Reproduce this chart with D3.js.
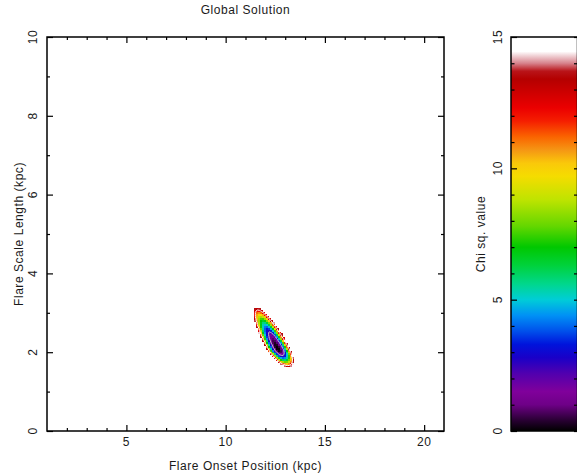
<!DOCTYPE html>
<html><head><meta charset="utf-8">
<script src="https://cdn.jsdelivr.net/npm/d3@7"></script>
<style>
body{margin:0;background:#fff;}
svg{display:block;}
text{font-family:"Liberation Sans",Arial,sans-serif;fill:#1a1a1a;font-size:12px;letter-spacing:0.55px;}
</style></head><body>
<svg id="c" width="577" height="476"></svg>
<script>
const title = "Global Solution";
const xLabel = "Flare Onset Position (kpc)";
const yLabel = "Flare Scale Length (kpc)";
const cbLabel = "Chi sq. value";
const xDomain = [1, 21];
const yDomain = [0, 10];
const cbDomain = [0, 15];
const xMajorTicks = [5, 10, 15, 20];
const yMajorTicks = [0, 2, 4, 6, 8, 10];
const cbMajorTicks = [0, 5, 10, 15];
const gridStepX = 0.1, gridStepY = 0.05;
const rowY = [1.65,1.70,1.75,1.80,1.85,1.90,1.95,2.00,2.05,2.10,2.15,2.20,2.25,2.30,2.35,2.40,2.45,2.50,2.55,2.60,2.65,2.70,2.75,2.80,2.85,2.90,2.95,3.00,3.05,3.10];
const rowStartX = [13.0,12.8,12.7,12.6,12.5,12.4,12.3,12.2,12.2,12.1,12.1,12.0,12.0,11.9,11.9,11.8,11.8,11.7,11.7,11.7,11.6,11.6,11.6,11.5,11.5,11.5,11.5,11.5,11.5,11.5];
const chiRows = [
 [13.9,13.1,13.1,14.0],
 [13.9,11.8,10.6,10.2,10.8,12.2,14.4],
 [12.8,10.3,8.6,7.9,8.0,9.0,10.9,13.7],
 [12.1,9.2,7.2,6.0,5.8,6.4,7.9,10.3,13.5],
 [12.0,8.7,6.2,4.7,4.0,4.3,5.4,7.3,10.2,13.9],
 [12.3,8.6,5.8,3.8,2.8,2.6,3.3,4.9,7.4,10.7],
 [13.1,9.0,5.8,3.5,2.0,1.5,1.8,3.0,5.0,8.0,11.8],
 [14.4,10.0,6.3,3.6,1.8,0.8,0.7,1.5,3.2,5.7,9.2,13.5],
 [11.4,7.4,4.3,2.0,0.7,0.2,0.6,1.8,4.0,7.0,10.9],
 [13.3,8.9,5.4,2.8,1.0,0.1,0.1,1.0,2.8,5.4,8.9,13.3],
 [10.9,7.0,3.9,1.7,0.4,0.0,0.5,1.8,4.1,7.2,11.2],
 [13.2,8.8,5.3,2.8,1.0,0.2,0.3,1.2,3.0,5.7,9.3,13.7],
 [10.9,7.0,4.0,1.9,0.7,0.3,0.8,2.2,4.5,7.7,11.7],
 [13.3,9.0,5.6,3.0,1.4,0.6,0.7,1.7,3.6,6.3,9.9,14.4],
 [11.2,7.4,4.4,2.3,1.2,0.8,1.4,2.9,5.2,8.4,12.5],
 [13.6,9.4,6.0,3.6,2.0,1.2,1.4,2.4,4.4,7.2,10.8],
 [11.7,7.9,5.1,3.0,1.9,1.6,2.3,3.8,6.2,9.4,13.6],
 [14.3,10.1,6.8,4.4,2.8,2.1,2.4,3.4,5.4,8.3,12.0],
 [12.5,8.8,6.0,4.0,2.9,2.7,3.4,4.9,7.4,10.7],
 [11.1,7.8,5.4,3.9,3.3,3.6,4.7,6.8,9.7,13.4],
 [13.6,9.9,7.1,5.2,4.2,4.0,4.8,6.4,8.9,12.2],
 [12.3,9.1,6.8,5.3,4.8,5.1,6.3,8.4,11.3],
 [11.3,8.6,6.7,5.7,5.7,6.4,8.1,10.6,14.1],
 [13.8,10.6,8.4,7.0,6.5,6.8,8.1,10.2,13.2],
 [13.0,10.3,8.5,7.6,7.5,8.4,10.1,12.7],
 [12.5,10.3,8.9,8.5,8.9,10.2,12.4],
 [12.3,10.5,9.7,9.7,10.5,12.3],
 [12.4,11.1,10.7,11.1,12.5],
 [12.8,12.0,12.1,13.0],
 [13.6,13.2,13.7]
];
const contourLevels = [2.3, 12.5];
const contourColors = ["#ffffff", "#c8c8c8"];
const cmapValues = [0, 0.4, 1.0, 1.5, 2.2, 2.8, 3.3, 3.8, 4.4, 5.0, 5.6, 6.3, 7.0, 7.8, 8.8, 9.7, 10.2, 10.7, 11.2, 11.8, 12.3, 12.8, 13.4, 13.7, 14.0, 14.45, 15];
const cmapColors = ["#000000","#280032","#6e0087","#80009b","#5000af","#1900c8","#0014dc","#0050eb","#0091f5","#00cdd7","#00d78c","#00d23c","#00c800","#64d700","#bee400","#f5dc00","#fac80a","#f59614","#fa6400","#f51e00","#eb0000","#d20000","#b40000","#b91419","#d7828c","#ffffff","#ffffff"];

const svg = d3.select("#c");
const X0 = 47, X1 = 444, Y0 = 37, Y1 = 431;
const cbX0 = 511, cbX1 = 577.5;
const x = d3.scaleLinear().domain(xDomain).range([X0, X1]);
const y = d3.scaleLinear().domain(yDomain).range([Y1, Y0]);
const cb = d3.scaleLinear().domain(cbDomain).range([Y1, Y0]);
const color = d3.scaleLinear().domain(cmapValues).range(cmapColors).clamp(true);

// heatmap cells
const cells = [];
rowY.forEach((yv, j) => chiRows[j].forEach((v, k) => cells.push({x: rowStartX[j] + k * gridStepX, y: yv, v})));
svg.append("g").attr("shape-rendering", "crispEdges").selectAll("rect").data(cells).join("rect")
  .attr("x", d => x(d.x - gridStepX / 2))
  .attr("y", d => y(d.y + gridStepY / 2))
  .attr("width", d => x(d.x + gridStepX / 2) - x(d.x - gridStepX / 2) + 0.3)
  .attr("height", d => y(d.y - gridStepY / 2) - y(d.y + gridStepY / 2) + 0.3)
  .attr("fill", d => color(d.v));

// contours
const gx0 = d3.min(rowStartX) - gridStepX, gy0 = d3.min(rowY) - gridStepY;
const nx = Math.round((d3.max(cells, d => d.x) - gx0) / gridStepX) + 2;
const ny = rowY.length + 2;
const grid = new Array(nx * ny).fill(-20);
cells.forEach(d => {
  const i = Math.round((d.x - gx0) / gridStepX), j = Math.round((d.y - gy0) / gridStepY);
  grid[i + j * nx] = -d.v;
});
const conts = d3.contours().size([nx, ny]).thresholds(contourLevels.map(v => -v))(grid);
const proj = d3.geoTransform({point: function(px, py) {
  this.stream.point(x(gx0 + (px - 0.5) * gridStepX), y(gy0 + (py - 0.5) * gridStepY));
}});
const path = d3.geoPath(proj);
svg.append("g").selectAll("path").data(conts).join("path")
  .attr("d", path).attr("fill", "none")
  .attr("stroke", (d, i) => contourColors[i]).attr("stroke-width", 1);

// frame and ticks
const minorX = x.ticks(20).filter(t => !xMajorTicks.includes(t) && t > xDomain[0] && t < xDomain[1]);
const minorY = y.ticks(10).filter(t => !yMajorTicks.includes(t));
const minorCb = cb.ticks(15).filter(t => !cbMajorTicks.includes(t));
function tickAxis(axisFn, scale, vals, size, tx, ty) {
  const g = svg.append("g").attr("transform", `translate(${tx},${ty})`)
    .call(axisFn(scale).tickValues(vals).tickSize(size).tickSizeOuter(0).tickFormat(""));
  g.select(".domain").remove();
  g.selectAll("line").attr("stroke", "#000").attr("stroke-width", 1.2);
}
tickAxis(d3.axisBottom, x, xMajorTicks, -6, 0, Y1);
tickAxis(d3.axisBottom, x, minorX, -3, 0, Y1);
tickAxis(d3.axisTop, x, xMajorTicks, -6, 0, Y0);
tickAxis(d3.axisTop, x, minorX, -3, 0, Y0);
tickAxis(d3.axisLeft, y, yMajorTicks, -6, X0, 0);
tickAxis(d3.axisLeft, y, minorY, -3, X0, 0);
tickAxis(d3.axisRight, y, yMajorTicks, -6, X1, 0);
tickAxis(d3.axisRight, y, minorY, -3, X1, 0);

// colorbar
const defs = svg.append("defs");
const grad = defs.append("linearGradient").attr("id", "cbg")
  .attr("x1", 0).attr("y1", 1).attr("x2", 0).attr("y2", 0);
grad.selectAll("stop").data(cmapValues).join("stop")
  .attr("offset", d => (d - cbDomain[0]) / (cbDomain[1] - cbDomain[0]))
  .attr("stop-color", (d, i) => cmapColors[i]);
svg.append("rect").attr("x", cbX0).attr("y", Y0).attr("width", cbX1 - cbX0).attr("height", Y1 - Y0)
  .attr("fill", "url(#cbg)");
tickAxis(d3.axisLeft, cb, cbMajorTicks, -6, cbX0, 0);
tickAxis(d3.axisLeft, cb, minorCb, -3.5, cbX0, 0);
tickAxis(d3.axisRight, cb, minorCb.concat(cbMajorTicks), -3.5, cbX1, 0);
svg.append("rect").attr("x", cbX0).attr("y", Y0).attr("width", cbX1 - cbX0).attr("height", Y1 - Y0)
  .attr("fill", "none").attr("stroke", "#000").attr("stroke-width", 1.5);

svg.append("rect").attr("x", X0).attr("y", Y0).attr("width", X1 - X0).attr("height", Y1 - Y0)
  .attr("fill", "none").attr("stroke", "#000").attr("stroke-width", 1.5);

// labels
svg.selectAll(".xt").data(xMajorTicks).join("text").attr("class", "xt")
  .attr("x", d => x(d)).attr("y", 446).attr("text-anchor", "middle").text(d => d);
svg.selectAll(".yt").data(yMajorTicks).join("text").attr("class", "yt")
  .attr("transform", d => `translate(37,${y(d)}) rotate(-90)`).attr("text-anchor", "middle").text(d => d);
svg.selectAll(".ct").data(cbMajorTicks).join("text").attr("class", "ct")
  .attr("transform", d => `translate(502,${cb(d)}) rotate(-90)`).attr("text-anchor", "middle").text(d => d);
svg.append("text").attr("x", (X0 + X1) / 2).attr("y", 14).attr("text-anchor", "middle").text(title);
svg.append("text").attr("x", (X0 + X1) / 2).attr("y", 470).attr("text-anchor", "middle").text(xLabel);
svg.append("text").attr("transform", `translate(23,${(Y0 + Y1) / 2}) rotate(-90)`).attr("text-anchor", "middle").text(yLabel);
svg.append("text").attr("transform", `translate(485,${(Y0 + Y1) / 2}) rotate(-90)`).attr("text-anchor", "middle").text(cbLabel);
</script>
</body></html>
